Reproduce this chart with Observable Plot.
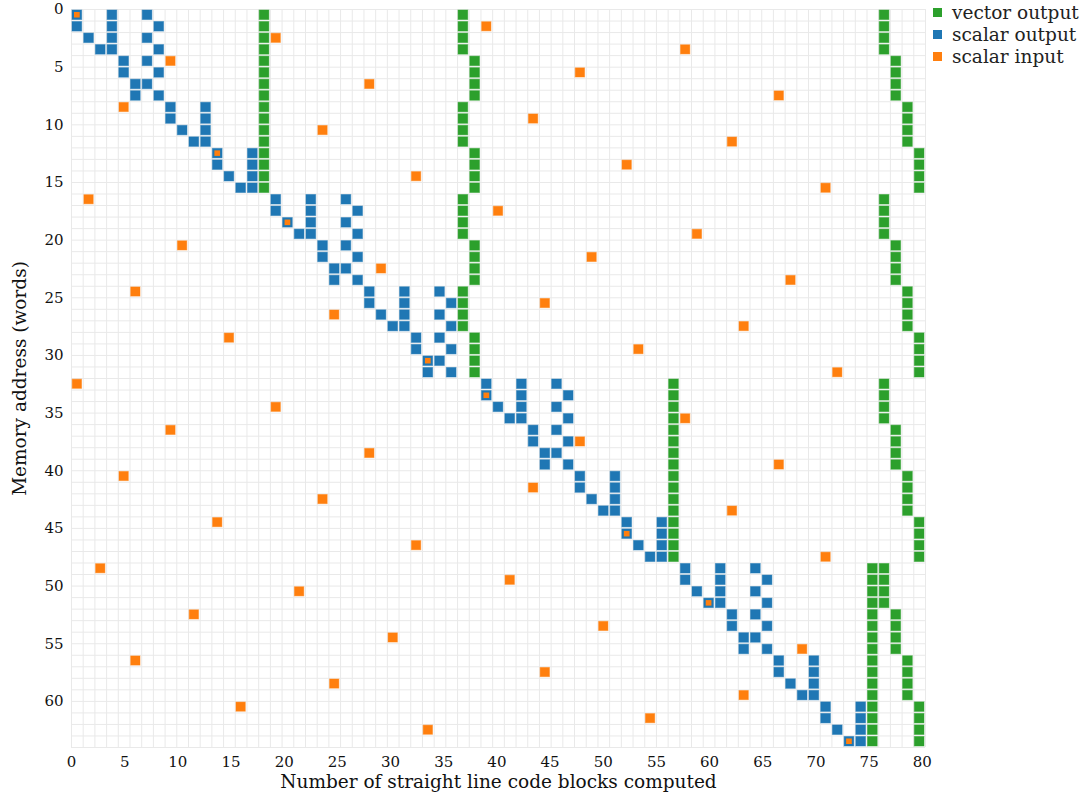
<!DOCTYPE html>
<html><head><meta charset="utf-8">
<script src="https://cdn.jsdelivr.net/npm/d3@7"></script>
<script src="https://cdn.jsdelivr.net/npm/@observablehq/plot@0.6"></script>
<style>
body{margin:0;background:#fff;}
#wrap{position:relative;width:1090px;height:803px;}
#legend{position:absolute;left:933px;top:1px;font-family:"DejaVu Serif",serif;font-size:18.5px;color:#222;}
.item{display:flex;align-items:center;height:22px;}
.sw{width:9px;height:9px;margin-right:10px;flex:none;}
</style></head><body><div id="wrap"><div id="legend"></div></div>
<script>
const xTicks = [0,5,10,15,20,25,30,35,40,45,50,55,60,65,70,75,80];
const yTicks = [0,5,10,15,20,25,30,35,40,45,50,55,60];
const xTitle = "Number of straight line code blocks computed";
const yTitle = "Memory address (words)";
const seriesNames = ["vector output","scalar output","scalar input"];
const seriesColors = ["#2ca02c","#1f77b4","#ff7f0e"];
const blocksPerColumn = 1.1;
const columnCount = 73;
const rowCount = 64;

// per memory row: column indices of cells
const vectorOutput = [
 [16,33,69],[16,33,69],[16,33,69],[16,33,69],
 [16,34,70],[16,34,70],[16,34,70],[16,34,70],
 [16,33,71],[16,33,71],[16,33,71],[16,33,71],
 [16,34,72],[16,34,72],[16,34,72],[16,34,72],
 [33,69],[33,69],[33,69],[33,69],
 [34,70],[34,70],[34,70],[34,70],
 [33,71],[33,71],[33,71],[33,71],
 [34,72],[34,72],[34,72],[34,72],
 [51,69],[51,69],[51,69],[51,69],
 [51,70],[51,70],[51,70],[51,70],
 [51,71],[51,71],[51,71],[51,71],
 [51,72],[51,72],[51,72],[51,72],
 [68,69],[68,69],[68,69],[68,69],
 [68,70],[68,70],[68,70],[68,70],
 [68,71],[68,71],[68,71],[68,71],
 [68,72],[68,72],[68,72],[68,72]
];
const scalarOutput = [
 [0,3,6],[0,3,7],[1,3,6],[2,3,7],
 [4,6],[4,7],[5,6],[5,7],
 [8,11],[8,11],[9,11],[10,11],
 [12,15],[12,15],[13,15],[14,15],
 [17,20,23],[17,20,24],[18,20,23],[19,20,24],
 [21,23],[21,24],[22,23],[22,24],
 [25,28,31],[25,28,32],[26,28,31],[27,28,32],
 [29,31],[29,32],[30,31],[30,32],
 [35,38,41],[35,38,42],[36,38,41],[37,38,42],
 [39,41],[39,42],[40,41],[40,42],
 [43,46],[43,46],[44,46],[45,46],
 [47,50],[47,50],[48,50],[49,50],
 [52,55,58],[52,55,59],[53,55,58],[54,55,59],
 [56,58],[56,59],[57,58],[57,59],
 [60,63],[60,63],[61,63],[62,63],
 [64,67],[64,67],[65,67],[66,67]
];
const scalarInput = [
 0,35,17,52,8,43,25,60,4,39,21,56,12,47,29,64,
 1,36,18,53,9,44,26,61,5,40,22,57,13,48,30,65,
 0,35,17,52,8,43,25,60,4,39,21,56,12,47,29,64,
 2,37,19,54,10,45,27,62,5,40,22,57,14,49,30,66
];

const vCells = vectorOutput.flatMap((cols,row)=>cols.map(col=>({row,col})));
const sCells = scalarOutput.flatMap((cols,row)=>cols.map(col=>({row,col})));
const iCells = scalarInput.map((col,row)=>({row,col,inside:scalarOutput[row].includes(col)}));
const W = blocksPerColumn;
const cellX = {x1:d=>d.col*W, x2:d=>(d.col+1)*W, y1:d=>d.row, y2:d=>d.row+1};

const plot = Plot.plot({
  width:1090, height:803,
  marginLeft:71, marginRight:165, marginTop:9, marginBottom:56,
  style:{fontFamily:'"DejaVu Serif", serif', fontSize:"15px", color:"#111", background:"#fff", overflow:"visible"},
  x:{domain:[0, columnCount*W], label:null},
  y:{domain:[0, rowCount], reverse:true, label:null},
  marks:[
    Plot.gridX(d3.range(columnCount+1).map(c=>c*W), {stroke:"#e9e9e9", strokeOpacity:1}),
    Plot.gridY(d3.range(rowCount+1), {stroke:"#e9e9e9", strokeOpacity:1}),
    Plot.rect(vCells, {...cellX, fill:seriesColors[0], stroke:seriesColors[0], strokeOpacity:0.5, inset:1}),
    Plot.rect(sCells, {...cellX, fill:seriesColors[1], stroke:seriesColors[1], strokeOpacity:0.5, inset:1}),
    Plot.rect(iCells.filter(d=>!d.inside), {...cellX, fill:seriesColors[2], stroke:seriesColors[2], strokeOpacity:0.5, inset:1.2}),
    Plot.rect(iCells.filter(d=>d.inside), {...cellX, fill:seriesColors[2], inset:3}),
    Plot.axisX({ticks:xTicks, tickSize:0, tickPadding:9, label:null}),
    Plot.axisY({ticks:yTicks, tickSize:0, tickPadding:8, label:null}),
    Plot.text([xTitle], {text:d=>d, frameAnchor:"bottom", dy:40, fontSize:18.5}),
    Plot.text([yTitle], {text:d=>d, frameAnchor:"left", textAnchor:"middle", rotate:-90, dx:-51, fontSize:18.5})
  ]
});
document.getElementById("wrap").prepend(plot);

const legend = document.getElementById("legend");
seriesNames.forEach((name,i)=>{
  const item = document.createElement("div");
  item.className = "item";
  const sw = document.createElement("span");
  sw.className = "sw";
  sw.style.background = seriesColors[i];
  item.appendChild(sw);
  item.appendChild(document.createTextNode(name));
  legend.appendChild(item);
});
</script></body></html>
